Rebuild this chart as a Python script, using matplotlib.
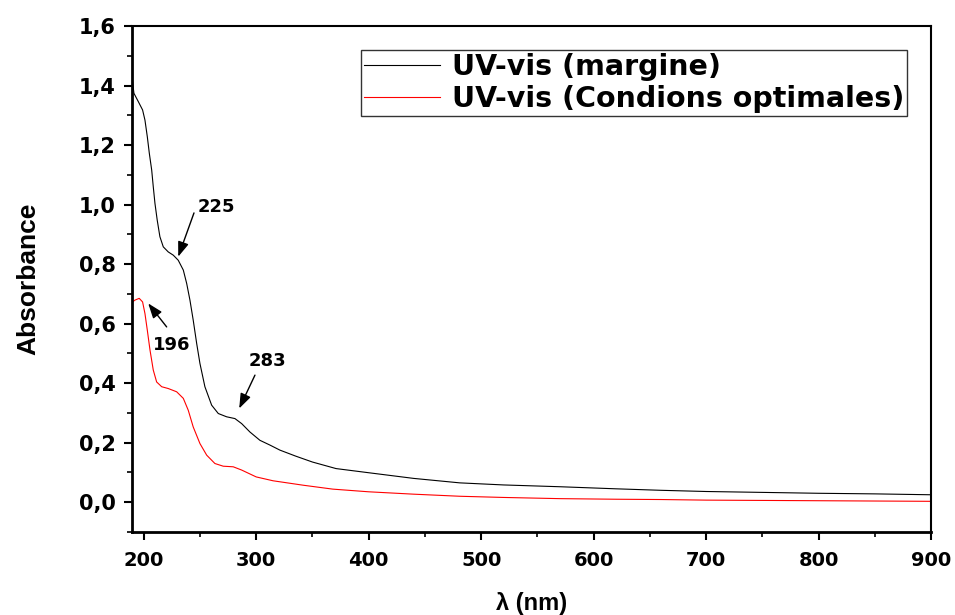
import matplotlib
matplotlib.use("Agg")
import matplotlib.pyplot as plt
from matplotlib.ticker import MultipleLocator, FuncFormatter

# Absorbance spectra (wavelength in nm)
wl_margine = [190, 191.3, 195.2, 199, 201.1, 203.2, 205, 207.1, 208.5, 210, 212,
              214.4, 217.4, 221.8, 226.3, 230.7, 235.2, 238.2, 241.1, 244, 247.1,
              250, 254.4, 260.4, 266.3, 273.7, 281.1, 287.1, 294.4, 303.3, 312.2,
              321.1, 335, 350, 371, 398, 440, 481, 520, 570, 620, 660, 700, 750,
              800, 850, 900]
abs_margine = [1.415, 1.374, 1.346, 1.318, 1.284, 1.228, 1.172, 1.116, 1.060,
               1.004, 0.948, 0.892, 0.858, 0.841, 0.830, 0.813, 0.780, 0.735,
               0.679, 0.612, 0.533, 0.466, 0.388, 0.326, 0.298, 0.287, 0.281,
               0.264, 0.236, 0.208, 0.192, 0.175, 0.155, 0.135, 0.113, 0.100,
               0.080, 0.065, 0.058, 0.052, 0.045, 0.040, 0.036, 0.033, 0.030,
               0.028, 0.025]

wl_optim = [190, 192.2, 196, 199, 201.1, 203.2, 205.6, 208.5, 211.5, 216, 221.8,
            229.3, 235.2, 239.6, 244, 250, 256, 263.3, 270.7, 279.6, 287.1, 300,
            315, 342, 368, 400, 440, 481, 520, 570, 620, 660, 700, 800, 900]
abs_optim = [0.673, 0.679, 0.685, 0.673, 0.634, 0.578, 0.511, 0.444, 0.404,
             0.388, 0.382, 0.371, 0.349, 0.309, 0.253, 0.197, 0.158, 0.130,
             0.121, 0.119, 0.108, 0.085, 0.072, 0.057, 0.044, 0.035, 0.027,
             0.020, 0.016, 0.012, 0.010, 0.009, 0.007, 0.005, 0.003]

series_labels = ["UV-vis (margine)", "UV-vis (Condions optimales)"]

# Peak labels: text, text position, arrow tail, arrow head
peak_texts = ["225", "196", "283"]
peak_text_pos = [(264.2, 0.993), (224.7, 0.528), (310.0, 0.476)]
peak_arrow_tail = [(244.7, 0.972), (220.4, 0.589), (298.9, 0.427)]
peak_arrow_head = [(230.7, 0.825), (204.0, 0.668), (284.9, 0.315)]

fig = plt.figure(figsize=(9.55, 6.15), dpi=100)
ax = fig.add_axes([0.1387, 0.135, 0.975 - 0.1387, 0.9577 - 0.135])

ax.plot(wl_margine, abs_margine, color="black", lw=0.8, label=series_labels[0])
ax.plot(wl_optim, abs_optim, color="#ff0000", lw=0.8, label=series_labels[1])

ax.set_xlim(190, 900)
ax.set_ylim(-0.1, 1.6)

ax.xaxis.set_major_locator(MultipleLocator(100))
ax.xaxis.set_minor_locator(MultipleLocator(50))
ax.yaxis.set_major_locator(MultipleLocator(0.2))
ax.yaxis.set_minor_locator(MultipleLocator(0.1))
ax.yaxis.set_major_formatter(FuncFormatter(lambda v, p: f"{v:.1f}".replace(".", ",")))

ax.tick_params(axis="both", which="major", direction="out", length=6, width=1.5)
ax.tick_params(axis="both", which="minor", direction="out", length=3.5, width=1.2)
ax.tick_params(top=False, right=False)
ax.tick_params(axis="x", labelsize=14, pad=7.5)
ax.tick_params(axis="y", labelsize=15, pad=6)
for lab in ax.get_xticklabels() + ax.get_yticklabels():
    lab.set_fontweight("bold")
    lab.set_family("DejaVu Sans")

for sp in ax.spines.values():
    sp.set_linewidth(1.5)
ax.spines["left"].set_linewidth(2.0)
ax.spines["bottom"].set_linewidth(2.0)

ax.set_xlabel("λ (nm)", fontsize=17, fontweight="bold",
              family=["Liberation Sans", "DejaVu Sans"], labelpad=16)
ax.set_ylabel("Absorbance", fontsize=19, fontweight="bold",
              family=["Liberation Sans", "DejaVu Sans"], labelpad=28)

for txt, tpos, tail, head in zip(peak_texts, peak_text_pos, peak_arrow_tail, peak_arrow_head):
    ax.annotate("", xy=head, xytext=tail,
                arrowprops=dict(arrowstyle="-|>,head_length=0.9,head_width=0.33",
                                color="black", lw=1.0, shrinkA=0, shrinkB=0))
    ax.text(tpos[0], tpos[1], txt, fontsize=13, fontweight="bold",
            ha="center", va="center")

leg = ax.legend(loc="upper left", bbox_to_anchor=(0.286, 0.9526),
                prop=dict(size=20.5, weight="bold"), frameon=True, fancybox=False,
                edgecolor="black", borderpad=0.12, handlelength=2.65,
                handletextpad=0.42, labelspacing=0.12, borderaxespad=0)
leg.get_frame().set_linewidth(1.0)

fig.savefig("out.png", dpi=100)
